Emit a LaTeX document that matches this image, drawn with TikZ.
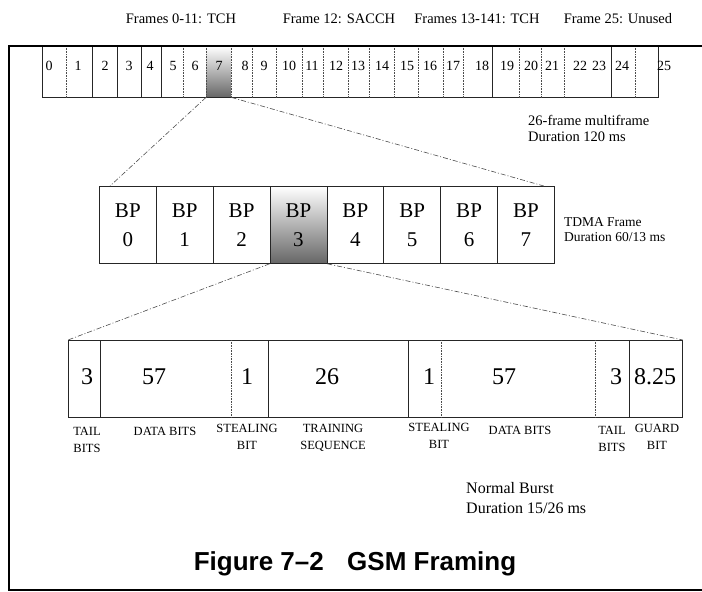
\documentclass[tikz,border=0pt]{standalone}
\usepackage{fontspec}
\setmainfont{Liberation Serif}
\newfontfamily\capfont{Liberation Sans}
\usetikzlibrary{positioning}
\tikzset{
  frameline/.style={line width=1.6pt},
  boxline/.style={draw=black!85,line width=0.8pt},
  dotline/.style={draw=black!70,line width=0.6pt,densely dotted},
  zoomline/.style={black!70,line width=0.6pt,dash pattern=on 5pt off 2pt on 1pt off 2pt},
  shaded/.style={top color=white,bottom color=black!60},
  note/.style={font=\fontsize{14.5}{16}\selectfont,align=left,anchor=west,inner sep=0pt},
  mfnum/.style={font=\fontsize{14}{16}\selectfont,inner sep=0pt},
  bpcell/.style={boxline,minimum width=56.875pt,minimum height=77pt,anchor=north west,
    align=center,inner sep=0pt,font=\fontsize{21}{29}\selectfont},
  burstnum/.style={font=\fontsize{24}{26}\selectfont,inner sep=0pt},
  fieldlbl/.style={font=\fontsize{12.5}{17.5}\selectfont,align=center,inner sep=0pt}
}
\begin{document}
\begin{tikzpicture}[x=1pt,y=-1pt]
  \useasboundingbox (0,0) rectangle (702,592);
  % channel use of the multiframe
  \node[mfnum,font=\fontsize{14.5}{16}\selectfont] (use0) at (181,19) {Frames 0-11: TCH};
  \node[mfnum,font=\fontsize{14.5}{16}\selectfont] (use1) at (339,19) {Frame 12: SACCH};
  \node[mfnum,font=\fontsize{14.5}{16}\selectfont] (use2) at (477,19) {Frames 13-141: TCH};
  \node[mfnum,font=\fontsize{14.5}{16}\selectfont] (use3) at (618,19) {Frame 25: Unused};
  % 26-frame multiframe
  \node[shaded,minimum width=25pt,minimum height=51pt,anchor=north west,inner sep=0pt] (m7) at (206,46) {};
  \node[boxline,minimum width=616pt,minimum height=51pt,anchor=north west,inner sep=0pt] (multi) at (42,46) {};
  \foreach \x in {92,117,141,161,492,611}
    \draw[boxline] (\x,0 |- multi.north) -- (\x,0 |- multi.south);
  \foreach \x in {66.7,183,206,231,252,276,302,323,348,369,394,418,443,463,519,541,564,635}
    \draw[dotline] (\x,0 |- multi.north) -- (\x,0 |- multi.south);
  \foreach \n/\x in {0/49,1/78,2/105,3/129,4/150,5/173,6/195,7/219,8/245,9/264,10/289,11/312,12/336,
      13/358,14/382,15/407,16/430,17/453,18/482,19/507,20/531,21/552,22/580,23/599,24/622,25/664}
    \node[mfnum] (n\n) at (\x,66) {\n};
  \node[note] (multinote) at (528,128) {26-frame multiframe\\Duration 120 ms};
  % TDMA frame
  \foreach \i in {0,1,2,4,5,6,7}
    \node[bpcell] (bp\i) at ({99+56.875*\i},186) {BP\\\i};
  \node[bpcell,shaded] (bp3) at ({99+56.875*3},186) {BP\\3};
  \node[note,font=\fontsize{13.5}{15}\selectfont,right=9pt of bp7,yshift=-5pt] (tdmanote) {TDMA Frame\\Duration 60/13 ms};
  \draw[zoomline] (m7.south west) -- ([xshift=11pt]bp0.north west);
  \draw[zoomline] (m7.south east) -- ([xshift=-11pt]bp7.north east);
  % normal burst
  \node[boxline,minimum width=614pt,minimum height=77pt,anchor=north west,inner sep=0pt] (burst) at (68,340) {};
  \foreach \x in {100,268,408,629}
    \draw[boxline] (\x,0 |- burst.north) -- (\x,0 |- burst.south);
  \foreach \x in {231,441,595}
    \draw[dotline] (\x,0 |- burst.north) -- (\x,0 |- burst.south);
  \foreach \k/\t/\x in {1/3/87,2/57/154,3/1/247,4/26/327,5/1/429,6/57/504,7/3/616,8/8.25/655}
    \node[burstnum] (b\k) at (\x,377) {\t};
  \draw[zoomline] (bp3.south west) -- (burst.north west);
  \draw[zoomline] (bp3.south east) -- (burst.north east);
  \node[fieldlbl] (tail1) at (87,440) {TAIL\\BITS};
  \node[fieldlbl] (data1) at (165,431) {DATA BITS};
  \node[fieldlbl] (steal1) at (247,437) {STEALING\\BIT};
  \node[fieldlbl] (train) at (333,438) {TRAINING\\SEQUENCE};
  \node[fieldlbl] (steal2) at (439,436) {STEALING\\BIT};
  \node[fieldlbl] (data2) at (520,430) {DATA BITS};
  \node[fieldlbl] (tail2) at (612,439) {TAIL\\BITS};
  \node[fieldlbl] (guard) at (657,437) {GUARD\\BIT};
  \node[note,font=\fontsize{16}{20}\selectfont] (burstnote) at (466,498) {Normal Burst\\Duration 15/26 ms};
  % outer frame and caption
  \draw[frameline] (702,46) -- (9,46) -- (9,590) -- (702,590);
  \node[font=\capfont\bfseries\fontsize{26}{30}\selectfont] (caption) at (355,564) {Figure 7–2\hspace{0.9em}GSM Framing};
\end{tikzpicture}
\end{document}
